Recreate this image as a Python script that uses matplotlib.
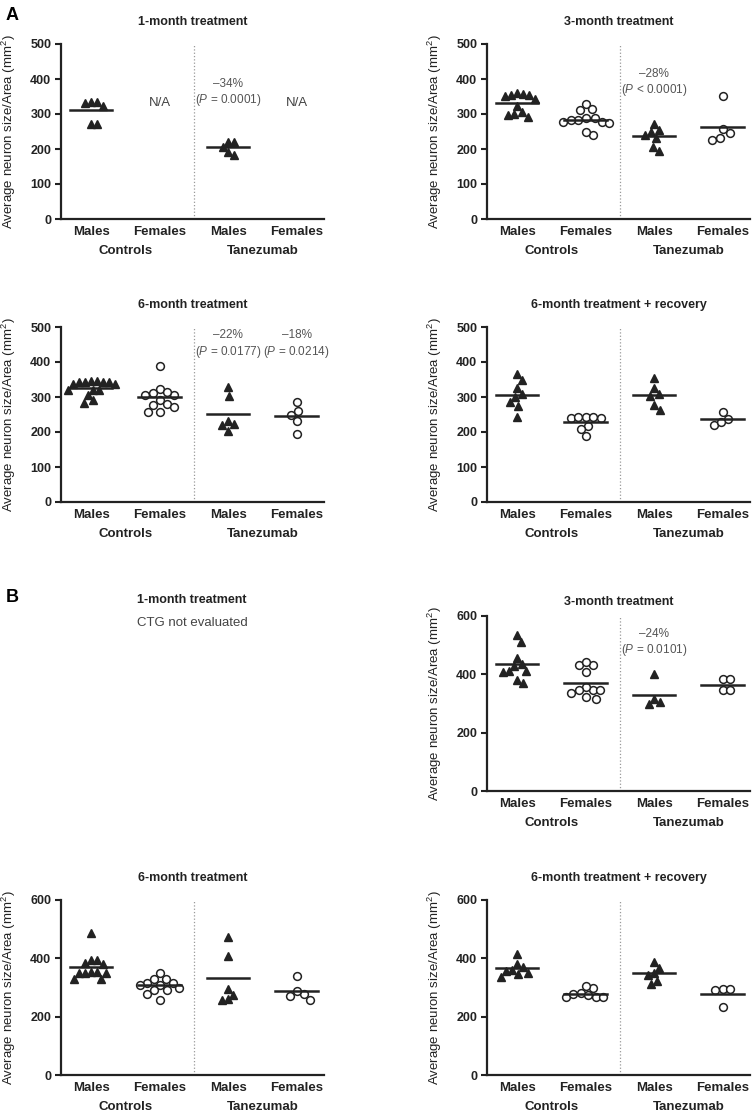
import numpy as np
import matplotlib
matplotlib.use('Agg')
from matplotlib import pyplot as plt

plt.rcParams['font.family'] = ['Liberation Sans', 'DejaVu Sans']
plt.rcParams['mathtext.fontset'] = 'custom'
plt.rcParams['mathtext.rm'] = 'Liberation Sans'
plt.rcParams['mathtext.it'] = 'Liberation Sans:italic'

cats = ['Males', 'Females', 'Males', 'Females']
groups = ['Controls', 'Tanezumab']

# A: 1-month
a1_ctrl_m = [333, 331, 323, 333, 271, 271]
a1_tz_m = [206, 221, 184, 219, 192]
a1_lines = [312, None, 206, None]

# A: 3-month
a2_ctrl_m = [361, 355, 352, 342, 355, 357, 323, 299, 292, 297, 306]
a2_ctrl_f = [328, 310, 314, 288, 283, 278, 275, 278, 283, 288, 240, 249]
a2_tz_m = [255, 240, 272, 248, 231, 195, 207]
a2_tz_f = [245, 226, 231, 256, 350]
a2_lines = [331, 283, 238, 263]

# A: 6-month
a3_ctrl_m = [342, 346, 342, 336, 320, 320, 320, 337, 343, 346, 342, 305, 283, 291]
a3_ctrl_f = [390, 322, 312, 305, 291, 305, 315, 281, 271, 257, 257, 276]
a3_tz_m = [224, 202, 221, 231, 302, 329]
a3_tz_f = [250, 231, 259, 193, 286]
a3_lines = [325, 299, 252, 245]

# A: 6-month + recovery
a4_ctrl_m = [366, 350, 325, 309, 299, 287, 275, 242]
a4_ctrl_f = [244, 239, 239, 244, 244, 218, 210, 189]
a4_tz_m = [309, 354, 304, 325, 264, 278]
a4_tz_f = [237, 258, 221, 229]
a4_lines = [307, 228, 307, 237]

# B: 3-month
b2_ctrl_m = [535, 510, 457, 437, 428, 409, 412, 412, 371, 380]
b2_ctrl_f = [432, 409, 432, 443, 346, 337, 357, 317, 323, 346, 346]
b2_tz_m = [400, 314, 297, 306]
b2_tz_f = [384, 384, 346, 346]
b2_lines = [435, 372, 329, 363]

# B: 6-month
b3_ctrl_m = [486, 394, 385, 379, 394, 354, 351, 351, 354, 351, 328, 330]
b3_ctrl_f = [330, 316, 308, 308, 316, 328, 351, 299, 290, 278, 291, 256]
b3_tz_m = [474, 408, 295, 276, 256, 261]
b3_tz_f = [279, 256, 272, 287, 339]
b3_lines = [371, 308, 331, 287]

# B: 6-month + recovery
b4_ctrl_m = [416, 361, 350, 382, 336, 345, 357, 370]
b4_ctrl_f = [298, 305, 281, 267, 267, 267, 273, 279]
b4_tz_m = [367, 342, 351, 388, 313, 322]
b4_tz_f = [294, 290, 294, 233]
b4_lines = [367, 279, 350, 279]

W, H = 755, 1114
dark = '#222222'
fig = plt.figure(figsize=(W / 100, H / 100), dpi=100)


def swarm(ax, x0, vals, rx, ry):
    # spread points sideways so that none overlap (elliptic keep-out zone, pixels)
    pts = ax.transData.transform([(x0, v) for v in vals])
    order = np.argsort(-np.array(vals), kind='stable')
    placed = []
    out = np.zeros(len(vals))
    for i in order:
        px, py = pts[i]
        best = None
        for k in range(0, 400):
            for off in ([0.0] if k == 0 else [k * 0.5, -k * 0.5]):
                ok = all(((px + off - qx) / rx) ** 2 + ((py - qy) / ry) ** 2 >= 1 for qx, qy in placed)
                if ok:
                    best = off
                    break
            if best is not None:
                break
        placed.append((px + best, py))
        out[i] = ax.transData.inverted().transform((px + best, py))[0]
    return out


def panel(col, row, title, ymax, ystep, series, lines, notes=(), na=(), tpad=14):
    x0 = 61 if col == 0 else 487
    tops = [44, 327, 616, 900]
    ax = fig.add_axes([x0 / W, 1 - (tops[row] + 175) / H, 263 / W, 175 / H])
    ax.set_xlim(-0.44, 3.4)
    ax.set_ylim(0, ymax)
    for s in ['top', 'right']:
        ax.spines[s].set_visible(False)
    for s in ['left', 'bottom']:
        ax.spines[s].set_linewidth(1.6)
        ax.spines[s].set_color(dark)
    ax.set_yticks(np.arange(0, ymax + 1, ystep))
    ax.tick_params(axis='y', length=4, width=1.5, color=dark, pad=3, labelsize=9)
    ax.tick_params(axis='x', length=0, pad=5, labelsize=9.5)
    for lab in ax.get_yticklabels():
        lab.set_fontweight('bold')
        lab.set_color(dark)
    ax.set_xticks(range(4))
    ax.set_xticklabels(cats, fontweight='bold', color=dark)
    for i, g in enumerate(groups):
        ax.text(0.5 + 2 * i, -32 / 175, g, transform=ax.get_xaxis_transform(),
                ha='center', va='center', fontsize=9.5, fontweight='bold', color=dark)
    ax.set_ylabel('Average neuron size/Area (mm$^2$)', fontsize=9.5, color=dark)
    ax.yaxis.set_label_coords(-0.165, 0.5)
    ax.set_title(title, fontsize=9, fontweight='bold', color=dark, pad=tpad)
    ax.axvline(1.5, color='#999999', lw=0.9, ls=':')
    for i, vals in enumerate(series):
        if vals is None:
            continue
        if i % 2 == 0:
            xs = swarm(ax, i, vals, 6.0, 9.5)
            ax.plot(xs, vals, '^', ms=5.5, color=dark, mec=dark, ls='none', clip_on=False)
        else:
            xs = swarm(ax, i, vals, 7.3, 9.5)
            ax.plot(xs, vals, 'o', ms=5.6, mfc='white', mec=dark, mew=1.1, ls='none', clip_on=False)
    for i, m in enumerate(lines):
        if m is not None:
            ax.plot([i - 0.31, i + 0.31], [m, m], color=dark, lw=1.8)
    for xi, yv, txt in notes:
        ax.text(xi, yv, txt, ha='center', va='center', fontsize=8.5, color='#555555', linespacing=1.2)
    for xi, yv in na:
        ax.text(xi, yv, 'N/A', ha='center', va='center', fontsize=9.5, color='#444444')
    return ax


panel(0, 0, '1-month treatment', 500, 100,
      [a1_ctrl_m, None, a1_tz_m, None], a1_lines,
      notes=[(2, 360, '–34%\n($\\mathit{P}$ = 0.0001)')], na=[(1, 331), (3, 331)])
panel(1, 0, '3-month treatment', 500, 100,
      [a2_ctrl_m, a2_ctrl_f, a2_tz_m, a2_tz_f], a2_lines,
      notes=[(2, 388, '–28%\n($\\mathit{P}$ < 0.0001)')])
panel(0, 1, '6-month treatment', 500, 100,
      [a3_ctrl_m, a3_ctrl_f, a3_tz_m, a3_tz_f], a3_lines,
      notes=[(2, 450, '–22%\n($\\mathit{P}$ = 0.0177)'), (3, 450, '–18%\n($\\mathit{P}$ = 0.0214)')])
panel(1, 1, '6-month treatment + recovery', 500, 100,
      [a4_ctrl_m, a4_ctrl_f, a4_tz_m, a4_tz_f], a4_lines)
panel(1, 2, '3-month treatment', 600, 200,
      [b2_ctrl_m, b2_ctrl_f, b2_tz_m, b2_tz_f], b2_lines,
      notes=[(2, 508, '–24%\n($\\mathit{P}$ = 0.0101)')], tpad=8)
panel(0, 3, '6-month treatment', 600, 200,
      [b3_ctrl_m, b3_ctrl_f, b3_tz_m, b3_tz_f], b3_lines)
panel(1, 3, '6-month treatment + recovery', 600, 200,
      [b4_ctrl_m, b4_ctrl_f, b4_tz_m, b4_tz_f], b4_lines)

fig.text(192 / W, 1 - 600 / H, '1-month treatment', ha='center', va='center',
         fontsize=9, fontweight='bold', color=dark)
fig.text(192 / W, 1 - 623 / H, 'CTG not evaluated', ha='center', va='center',
         fontsize=9.5, color='#444444')
fig.text(6 / W, 1 - 15 / H, 'A', ha='left', va='center', fontsize=13, fontweight='bold')
fig.text(6 / W, 1 - 597 / H, 'B', ha='left', va='center', fontsize=13, fontweight='bold')

fig.savefig('out.png', dpi=100)
